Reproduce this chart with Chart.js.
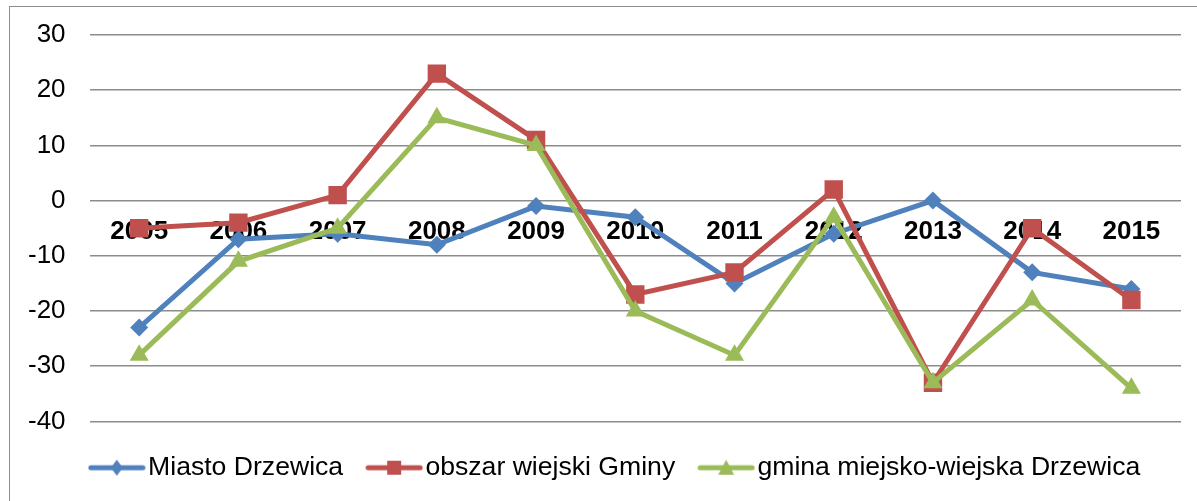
<!DOCTYPE html>
<html>
<head>
<meta charset="utf-8">
<script src="https://cdn.jsdelivr.net/npm/chart.js@4/dist/chart.umd.min.js"></script>
<style>
html, body { margin: 0; padding: 0; background: #fff; overflow: hidden; }
#wrap { position: relative; width: 1197px; height: 501px; overflow: hidden; }
#ramka { position: absolute; left: 9px; top: 6px; width: 1300px; height: 600px; border: 1.5px solid #8c8c8c; }
#wykres { position: absolute; left: 0; top: 0; }
</style>
</head>
<body>
<div id="wrap">
  <div id="ramka"></div>
  <canvas id="wykres" width="1197" height="501"></canvas>
</div>
<script>
// Lata na osi X
const lata = ['2005', '2006', '2007', '2008', '2009', '2010', '2011', '2012', '2013', '2014', '2015'];

// Wartości serii
const miastoDrzewica = [-23, -7, -6, -8, -1, -3, -15, -6, 0, -13, -16];
const obszarWiejski = [-5, -4, 1, 23, 11, -17, -13, 2, -33, -5, -18];
const gminaMiejskoWiejska = [-28, -11, -5, 15, 10, -20, -28, -3, -33, -18, -34];

const nazwySerii = ['Miasto Drzewica', 'obszar wiejski Gminy', 'gmina miejsko-wiejska Drzewica'];

// Skala osi Y
const osYmin = -40;
const osYmax = 30;
const osYkrok = 10;

const kolory = ['#4f81bd', '#c0504d', '#9bbb59'];
const czcionka = "'Liberation Sans', Arial, sans-serif";

// Ikona legendy: linia z markerem na środku
function ikonaLegendy(kolor, styl) {
    const c = document.createElement('canvas');
    c.width = 58;
    c.height = 22;
    const ctx = c.getContext('2d');
    ctx.strokeStyle = kolor;
    ctx.lineWidth = 5;
    ctx.lineCap = 'round';
    ctx.beginPath();
    ctx.moveTo(3, 11);
    ctx.lineTo(55, 11);
    ctx.stroke();
    ctx.fillStyle = kolor;
    ctx.beginPath();
    if (styl === 'rectRot') {
        ctx.moveTo(29, 3); ctx.lineTo(35, 11); ctx.lineTo(29, 19); ctx.lineTo(23, 11);
    } else if (styl === 'rect') {
        ctx.rect(22, 4, 14, 14);
    } else {
        ctx.moveTo(29, 3); ctx.lineTo(37, 18); ctx.lineTo(21, 18);
    }
    ctx.closePath();
    ctx.fill();
    return c;
}

const style = ['rectRot', 'rect', 'triangle'];
const promienie = [9, 13, 11];
const ikony = kolory.map((k, i) => ikonaLegendy(k, style[i]));
const serie = [miastoDrzewica, obszarWiejski, gminaMiejskoWiejska];

const przesunLegende = {
    id: 'przesunLegende',
    afterLayout(chart) {
        chart.legend.left += 15;
        chart.legend.right += 15;
    }
};

new Chart(document.getElementById('wykres'), {
    type: 'line',
    data: {
        labels: lata,
        datasets: serie.map((dane, i) => ({
            label: nazwySerii[i],
            data: dane,
            borderColor: kolory[i],
            backgroundColor: kolory[i],
            borderWidth: 5,
            pointStyle: style[i],
            pointRadius: promienie[i],
            pointHoverRadius: promienie[i],
            pointBorderWidth: 0,
            tension: 0,
            fill: false,
            order: 3 - i
        }))
    },
    options: {
        responsive: false,
        animation: false,
        layout: { padding: { left: 28, right: 16, top: 35, bottom: 10 } },
        plugins: {
            tooltip: { enabled: false },
            legend: {
                position: 'bottom',
                labels: {
                    usePointStyle: true,
                    pointStyleWidth: 36,
                    padding: 33,
                    color: '#000',
                    font: { size: 26.6, family: czcionka },
                    generateLabels: chart => chart.data.datasets.map((ds, i) => ({
                        text: ds.label,
                        pointStyle: ikony[i],
                        fillStyle: ds.borderColor,
                        strokeStyle: ds.borderColor,
                        lineWidth: 0,
                        hidden: false,
                        datasetIndex: i
                    }))
                }
            }
        },
        scales: {
            x: {
                position: { y: 0 },
                offset: true,
                z: 1,
                grid: { display: false, drawTicks: false },
                border: { display: false },
                ticks: {
                    color: '#000',
                    padding: 16,
                    maxRotation: 0,
                    autoSkip: false,
                    font: { size: 26, weight: 'bold', family: czcionka }
                }
            },
            y: {
                min: osYmin,
                max: osYmax,
                grid: {
                    color: '#8c8c8c',
                    lineWidth: 1.5,
                    drawTicks: true,
                    tickLength: 24,
                    tickColor: 'rgba(0,0,0,0)'
                },
                border: { display: false },
                ticks: {
                    stepSize: osYkrok,
                    color: '#000',
                    padding: 0,
                    font: { size: 26, family: czcionka }
                }
            }
        }
    },
    plugins: [przesunLegende]
});
</script>
</body>
</html>
